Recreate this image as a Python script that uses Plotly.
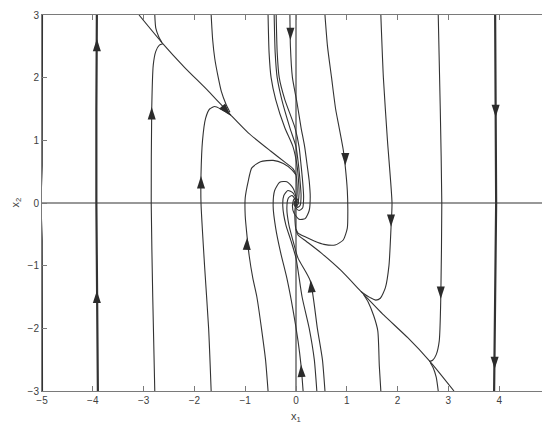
import math
import plotly.graph_objects as go

# phase portrait, streamlines as (x1, x2) points

# straight-ish outer trajectories
thick_left = [(-3.90, -3.0), (-3.92, -1.5), (-3.93, 0.0), (-3.93, 1.5), (-3.92, 3.0)]
thick_right = [(3.92, 3.0), (3.93, 1.5), (3.94, 0.0), (3.92, -1.5), (3.90, -3.0)]
edge_left = [(-4.99, 3.0), (-4.995, 0.6), (-5.02, 0.0), (-4.995, -0.6), (-4.99, -3.0)]
edge_right = [(4.99, 3.0), (4.995, 0.6), (5.02, 0.0), (4.995, -0.6), (4.99, -3.0)]

# slow manifold (diagonal) and the curves that join it
diag_upper = [(-3.09, 3.0), (-2.64, 2.56), (-2.2, 2.17), (-1.73, 1.79), (-1.28, 1.40),
              (-0.94, 1.12), (-0.5, 0.83), (-0.2, 0.64), (-0.06, 0.55), (0.0, 0.45),
              (0.02, 0.3), (0.02, 0.12), (0.0, 0.0)]
diag_lower = [(3.11, -3.0), (2.64, -2.53), (2.2, -2.15), (1.73, -1.79), (1.3, -1.43),
              (0.89, -1.08), (0.5, -0.8), (0.2, -0.61), (0.04, -0.51), (0.0, -0.43),
              (-0.02, -0.28), (-0.02, -0.1), (0.0, 0.0)]
join_ul_top = [(-2.78, 3.0), (-2.76, 2.79), (-2.7, 2.65), (-2.64, 2.56)]
join_ul_bot = [(-2.78, -3.0), (-2.82, -1.5), (-2.85, 0.0), (-2.84, 1.5), (-2.81, 2.2),
               (-2.76, 2.42), (-2.69, 2.52), (-2.62, 2.54)]
join_lr_top = [(2.80, 3.0), (2.84, 1.5), (2.87, 0.0), (2.85, -1.52), (2.82, -2.2),
               (2.76, -2.42), (2.69, -2.51), (2.62, -2.53)]
join_lr_bot = [(2.80, -3.0), (2.76, -2.78), (2.7, -2.63), (2.64, -2.54)]

left_hook = [(-1.67, -3.0), (-1.72, -2.0), (-1.8, -1.0), (-1.87, 0.0), (-1.87, 0.45),
             (-1.84, 1.0), (-1.78, 1.35), (-1.7, 1.5), (-1.6, 1.54), (-1.48, 1.5),
             (-1.36, 1.44), (-1.28, 1.4)]
right_hook = [(1.67, 3.0), (1.72, 2.0), (1.8, 1.0), (1.89, 0.0), (1.87, -0.4),
              (1.83, -1.0), (1.76, -1.35), (1.66, -1.52), (1.57, -1.55), (1.46, -1.51),
              (1.36, -1.46), (1.28, -1.41)]
left_drop = [(-1.67, 3.0), (-1.64, 2.6), (-1.6, 2.31), (-1.53, 2.0), (-1.47, 1.78),
             (-1.38, 1.58), (-1.3, 1.45)]
right_rise = [(1.67, -3.0), (1.64, -2.6), (1.61, -2.04), (1.53, -1.8), (1.42, -1.58),
              (1.33, -1.46)]

# loops that reach the diagonal near the origin
loop_left = [(-0.55, -3.0), (-0.6, -2.5), (-0.68, -2.0), (-0.77, -1.5), (-0.85, -1.2),
             (-0.92, -0.85), (-0.96, -0.56), (-1.0, -0.2), (-1.0, 0.08), (-0.94, 0.35),
             (-0.87, 0.56), (-0.7, 0.66), (-0.45, 0.68), (-0.25, 0.63), (-0.08, 0.53),
             (0.0, 0.45)]
loop_right = [(0.57, 3.0), (0.62, 2.5), (0.7, 2.0), (0.78, 1.5), (0.85, 1.2),
              (0.93, 0.85), (0.97, 0.58), (1.01, 0.2), (1.02, -0.1), (1.01, -0.4),
              (0.93, -0.59), (0.77, -0.67), (0.55, -0.66), (0.37, -0.61), (0.18, -0.54),
              (0.04, -0.48), (0.0, -0.42)]

# bundle from the top edge, passing right of the origin
top_a = [(-0.55, 3.0), (-0.53, 2.4), (-0.49, 2.0), (-0.4, 1.65), (-0.22, 1.2),
         (-0.06, 0.9), (0.02, 0.6), (0.05, 0.35), (0.06, 0.15), (0.04, 0.02), (0.0, 0.0)]
top_b = [(-0.43, 3.0), (-0.41, 2.4), (-0.37, 2.0), (-0.28, 1.65), (-0.12, 1.2),
         (0.0, 0.9), (0.05, 0.6), (0.08, 0.35), (0.1, 0.12), (0.08, -0.04),
         (0.03, -0.07), (0.0, 0.0)]
top_c = [(-0.39, 3.0), (-0.37, 2.4), (-0.33, 2.0), (-0.22, 1.65), (-0.02, 1.2),
         (0.06, 0.9), (0.1, 0.6), (0.13, 0.35), (0.15, 0.1), (0.13, -0.08),
         (0.06, -0.12), (0.0, -0.08), (-0.03, 0.0), (-0.01, 0.04), (0.01, 0.0)]
top_d = [(-0.12, 3.0), (-0.11, 2.5), (-0.07, 2.0), (0.02, 1.6), (0.1, 1.2),
         (0.17, 0.9), (0.22, 0.6), (0.26, 0.35), (0.28, 0.1), (0.26, -0.12),
         (0.18, -0.25), (0.06, -0.26), (-0.04, -0.16), (-0.07, -0.04), (-0.04, 0.06),
         (0.02, 0.07), (0.05, 0.0), (0.02, -0.04), (0.0, 0.0)]

# bundle from the bottom edge, passing left of the origin
bot_p = [(0.14, -3.0), (0.1, -2.6), (0.04, -2.2), (-0.06, -1.7), (-0.18, -1.2),
         (-0.3, -0.8), (-0.4, -0.4), (-0.45, -0.05), (-0.42, 0.2), (-0.32, 0.33),
         (-0.18, 0.34), (-0.06, 0.24), (0.0, 0.1), (0.02, -0.02), (0.0, -0.06),
         (-0.04, -0.03), (-0.03, 0.02), (0.0, 0.0)]
bot_q = [(0.41, -3.0), (0.36, -2.5), (0.26, -2.0), (0.12, -1.5), (0.0, -0.88),
         (-0.1, -0.6), (-0.2, -0.35), (-0.26, -0.05), (-0.24, 0.12), (-0.16, 0.2),
         (-0.06, 0.16), (0.0, 0.06), (0.0, 0.0)]
bot_r = [(0.57, -3.0), (0.52, -2.5), (0.42, -2.0), (0.28, -1.24), (0.04, -0.88),
         (-0.06, -0.6), (-0.14, -0.35), (-0.18, -0.08), (-0.15, 0.08), (-0.08, 0.12),
         (-0.02, 0.06), (0.0, 0.0)]

x1_axis_line = [(-5.0, 0.0), (5.0, 0.0)]
x2_axis_line = [(0.0, -3.0), (0.0, 3.0)]

# arrow heads: position and direction of flow
arrow_x = [-3.92, -3.92, 3.93, 3.91, -2.84, 2.85, -1.29, -1.87, 1.87, -0.96, 0.97, -0.11, 0.1, 0.29]
arrow_y = [2.62, -1.40, 1.37, -2.65, 1.53, -1.53, 1.40, 0.43, -0.38, -0.55, 0.60, 2.60, -2.58, -1.23]
arrow_dx = [0.0, 0.0, 0.0, 0.0, 0.0, 0.0, 0.45, 0.0, 0.0, 0.05, 0.0, 0.0, -0.05, -0.1]
arrow_dy = [1.0, 1.0, -1.0, -1.0, 1.0, -1.0, -0.4, 1.0, -1.0, 1.0, -1.0, -1.0, 1.0, 1.0]

x_ticks = [-5, -4, -3, -2, -1, 0, 1, 2, 3, 4, 5]
y_ticks = [-3, -2, -1, 0, 1, 2, 3]

W, H = 550, 423
margin = dict(l=34, r=8, t=7, b=40)
line_col = "#333333"

fig = go.Figure()

thin = [edge_left, edge_right, diag_upper, diag_lower, join_ul_top, join_ul_bot,
        join_lr_top, join_lr_bot, left_hook, right_hook, left_drop, right_rise,
        loop_left, loop_right, top_a, top_b, top_c, top_d, bot_p, bot_q, bot_r,
        x1_axis_line, x2_axis_line]
for curve in thin:
    fig.add_trace(go.Scatter(
        x=[p[0] for p in curve], y=[p[1] for p in curve],
        mode="lines", line=dict(color=line_col, width=1.1, shape="spline", smoothing=0.6),
        hoverinfo="skip", showlegend=False,
    ))
for curve in [thick_left, thick_right]:
    fig.add_trace(go.Scatter(
        x=[p[0] for p in curve], y=[p[1] for p in curve],
        mode="lines", line=dict(color=line_col, width=2.2),
        hoverinfo="skip", showlegend=False,
    ))

# marker angle in screen space (clockwise from up)
sx = (W - margin["l"] - margin["r"]) / 10.0
sy = (H - margin["t"] - margin["b"]) / 6.0
angles = [math.degrees(math.atan2(dx * sx, dy * sy)) for dx, dy in zip(arrow_dx, arrow_dy)]

fig.add_trace(go.Scatter(
    x=arrow_x, y=arrow_y, mode="markers",
    marker=dict(symbol="arrow", size=13, angle=angles, color="#2b2b2b",
                line=dict(width=0)),
    hoverinfo="skip", showlegend=False,
))

axis_style = dict(
    showgrid=False, zeroline=False, showline=True, mirror="ticks", automargin=False,
    linecolor="#7a7a7a", linewidth=1, ticks="inside", ticklen=5,
    tickcolor="#7a7a7a", tickfont=dict(family="Liberation Sans, Arial", size=10, color="#404040"),
)
fig.update_xaxes(range=[-5, 5], tickvals=x_ticks, **axis_style)
fig.update_yaxes(range=[-3, 3], tickvals=y_ticks, **axis_style)

fig.update_layout(
    width=W, height=H, margin=margin,
    plot_bgcolor="white", paper_bgcolor="white",
    annotations=[
        dict(text="x<sub>1</sub>", x=0.5, y=-0.068, xref="paper", yref="paper",
             yanchor="middle", showarrow=False,
             font=dict(family="Liberation Sans, Arial", size=11, color="#404040")),
        dict(text="x<sub>2</sub>", x=-0.052, y=0.5, xref="paper", yref="paper",
             xanchor="center", textangle=-90, showarrow=False,
             font=dict(family="Liberation Sans, Arial", size=11, color="#404040")),
    ],
)

fig.write_html("out.html")
